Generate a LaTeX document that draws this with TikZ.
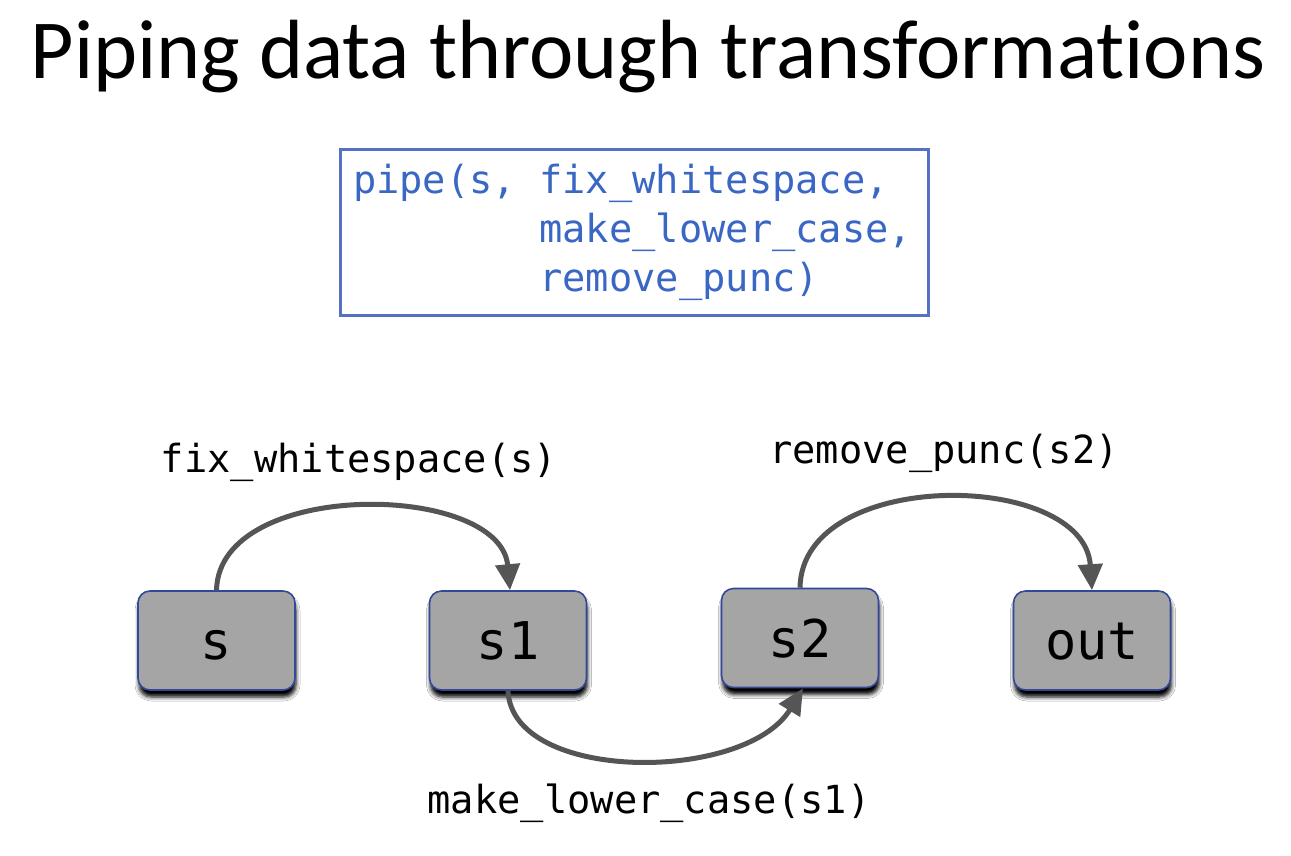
\documentclass[tikz,border=0pt]{standalone}
\usepackage{fontspec}
\setmainfont{Carlito}[Ligatures={NoCommon}]
\setmonofont{DejaVu Sans Mono}
\usetikzlibrary{arrows.meta,shadows.blur}
\definecolor{nodefill}{HTML}{A5A5A5}
\definecolor{nodeborder}{HTML}{34489A}
\definecolor{codeborder}{HTML}{5571C6}
\definecolor{codetext}{HTML}{3B67C4}
\definecolor{conncol}{HTML}{555555}
\tikzset{
  valbox/.style={draw=nodeborder, line width=1.6pt, fill=nodefill, rounded corners=12pt,
    minimum width=157pt, minimum height=99pt, inner sep=0pt,
    font=\ttfamily\fontsize{52}{60}\selectfont, text height=38pt, text depth=0pt,
    blur shadow={shadow xshift=1pt, shadow yshift=-7pt, shadow blur radius=4pt, shadow opacity=100}},
  codebox/.style={draw=codeborder, line width=3pt, minimum width=588pt, minimum height=166pt,
    inner xsep=13pt, text width=562pt, align=left, text=codetext,
    font=\ttfamily\fontsize{38.7}{49}\selectfont},
  lbl/.style={font=\ttfamily\fontsize{38.7}{46}\selectfont, text=black, inner sep=0pt},
  conn/.style={draw=conncol, line width=5pt, -{Triangle[length=26pt,width=24pt]}},
}
\begin{document}
\begin{tikzpicture}[x=1pt,y=-1pt]
\useasboundingbox (0,0) rectangle (1291,855);
\fill[white] (0,0) rectangle (1291,855);
\node[anchor=base, inner sep=0pt, font=\fontsize{84}{96}\selectfont] (title) at (648,78) {Piping data through transformations};
\node[codebox] (code) at (634,232) {pipe(s,\phantom{x}fix\_whitespace,\\\phantom{pipe(s,x}make\_lower\_case,\\\phantom{pipe(s,x}remove\_punc)};
\node[valbox] (s) at (216.5,640.5) {s};
\node[valbox] (s1) at (508,640.5) {s1};
\node[valbox] (s2) at (800,638) {s2};
\node[valbox] (out) at (1092,640.5) {out};
\node[lbl, anchor=base] (l1) at (359,472) {fix\_whitespace(s)};
\node[lbl, anchor=base] (l3) at (944,463) {remove\_punc(s2)};
\node[lbl, anchor=base] (l2) at (649,813) {make\_lower\_case(s1)};
\draw[conn] (s.north) .. controls (219,478) and (500,482) .. ([xshift=2pt]s1.north);
\draw[conn] (s1.south) .. controls (512,783) and (745,783) .. ([xshift=3pt]s2.south);
\draw[conn] (s2.north) .. controls (802,467) and (1084,470) .. (out.north);
\end{tikzpicture}
\end{document}
